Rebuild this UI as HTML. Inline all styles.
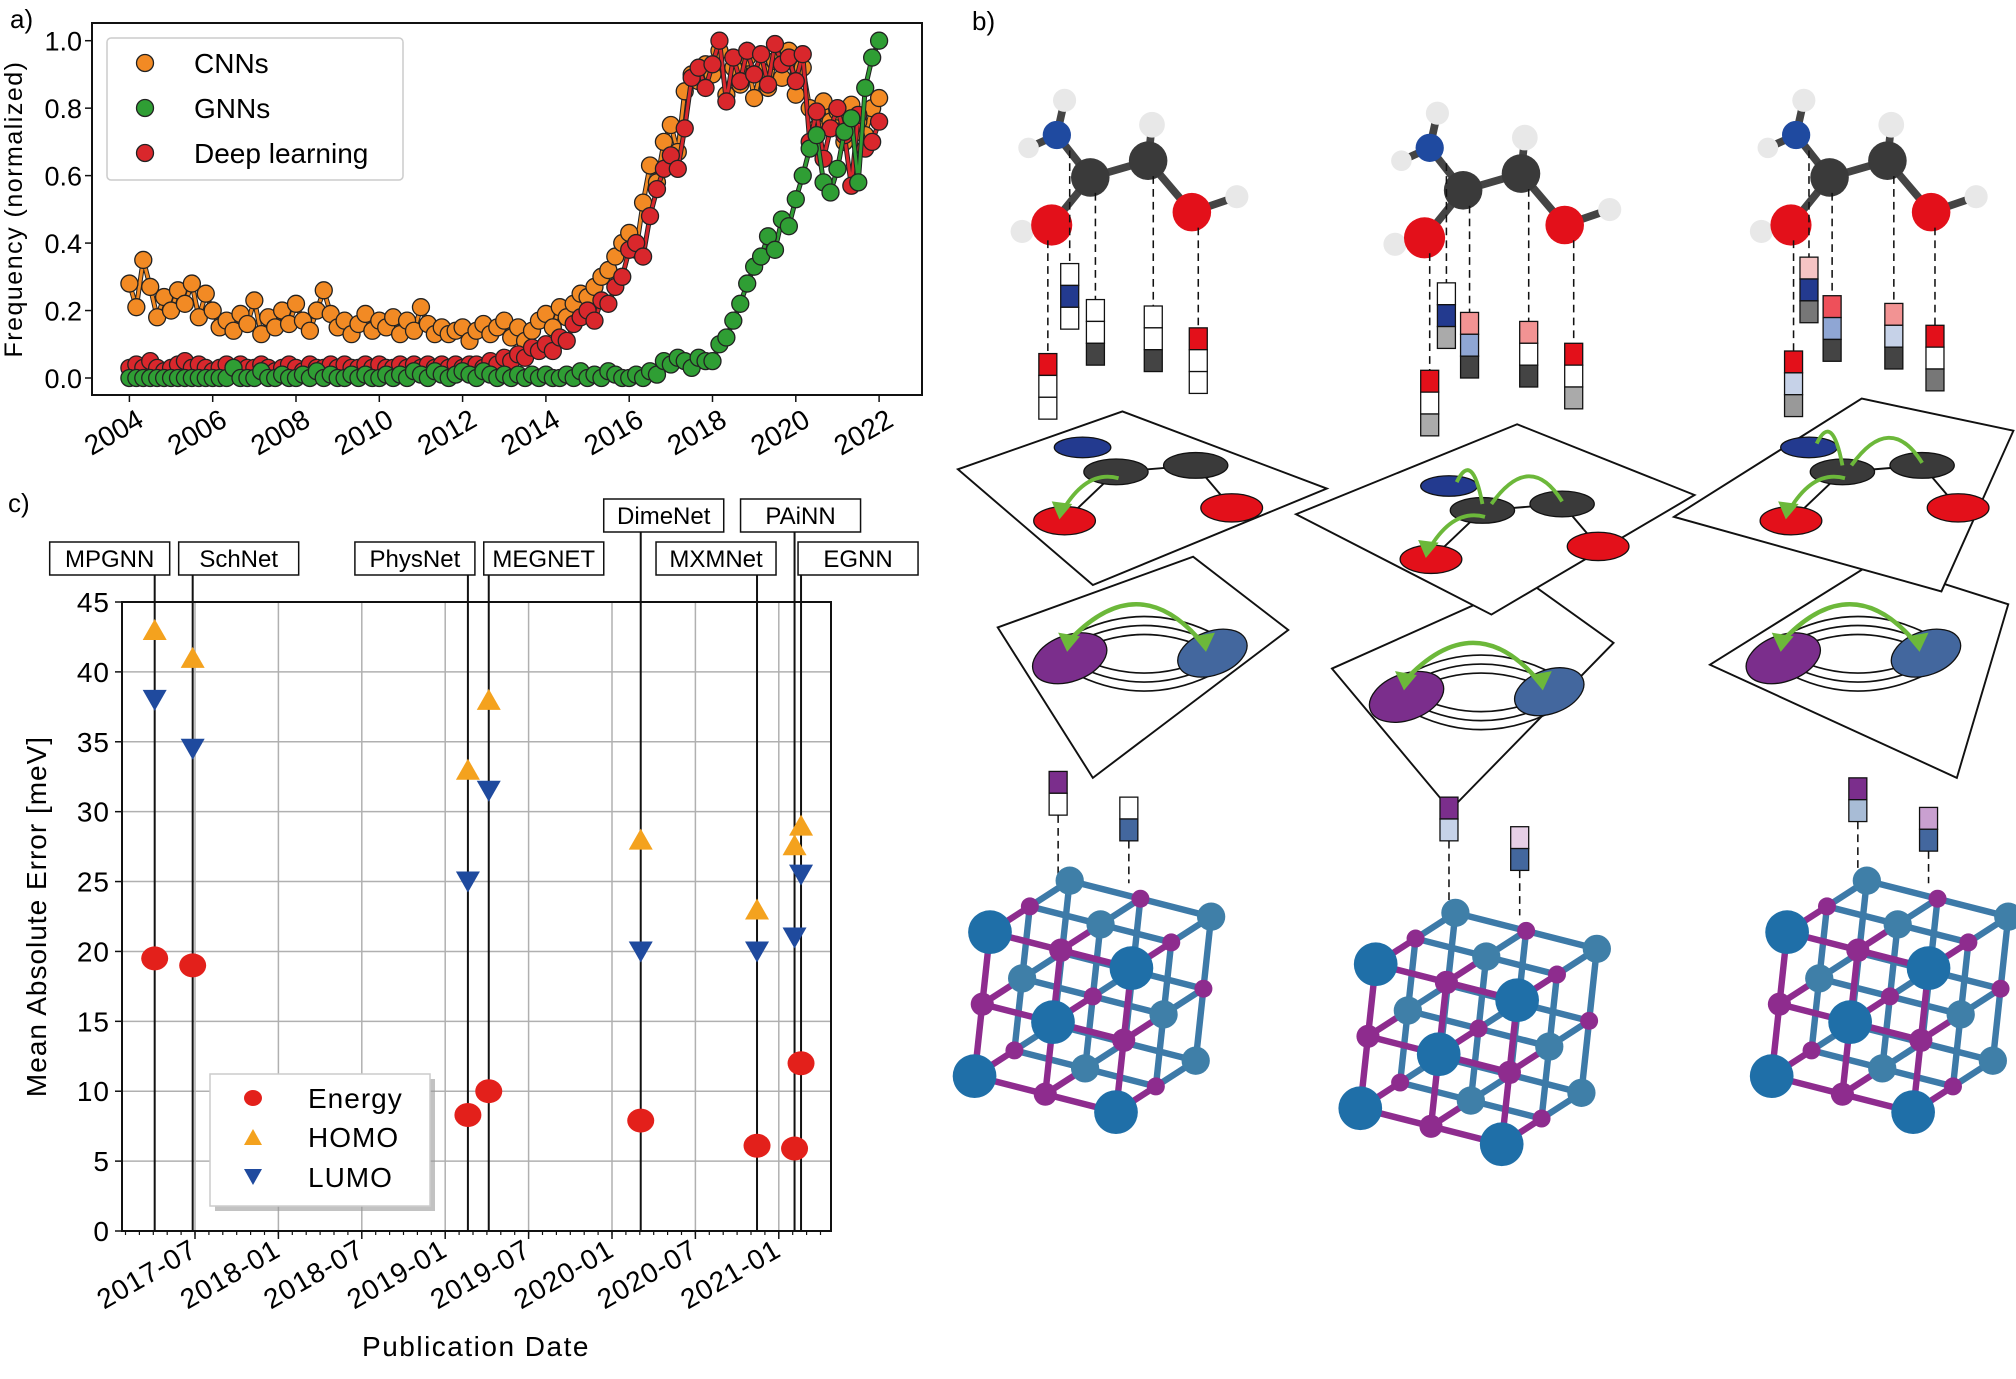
<!DOCTYPE html>
<html><head><meta charset="utf-8">
<style>
html,body{margin:0;padding:0;background:#fff;}
svg{display:block;font-family:"Liberation Sans","DejaVu Sans",sans-serif;}
</style></head>
<body>
<svg id="fig" width="2016" height="1379" viewBox="0 0 2016 1379" xmlns="http://www.w3.org/2000/svg">
<rect width="2016" height="1379" fill="#fff"/>
<g id="panelA"></g>
<g id="panelC"></g>
<g id="panelB" transform="scale(1.2857)"></g>
<text x="10" y="28" font-size="26">a)</text>
<text x="972" y="30" font-size="26">b)</text>
<text x="8" y="512" font-size="26">c)</text>
</svg>
<script>
// ---------- Panel a data (bi-monthly from 2004.0) ----------
const aYearTicks = [2004,2006,2008,2010,2012,2014,2016,2018,2020,2022];
const aValueTicks = [0,0.2,0.4,0.6,0.8,1.0];
const aStartYear = 2004;
const aStep = 1/6;
const cnnValues = [
.28,.21,.35,.27,.18,.24, .20,.26,.22,.28,.18,.25, .20,.15,.17,.14,.19,.16, .23,.13,.18,.15,.20,.16,
.22,.17,.14,.20,.26,.19, .15,.17,.13,.16,.19,.14, .17,.15,.18,.13,.17,.14, .21,.16,.13,.15,.13,.14,
.15,.11,.14,.16,.13,.15, .17,.12,.15,.11,.14,.17, .19,.15,.21,.18,.22,.25, .24,.27,.30,.32,.36,.40,
.43,.38,.52,.63,.58,.70, .75,.67,.85,.90,.88,.93, .90,.97,.84,.92,.87,.95, .83,.91,.86,.94,.89,.97,
.84,.92,.80,.74,.82,.76, .79,.70,.81,.76,.72,.80, .83];
const dlValues = [
.03,.04,.03,.05,.03,.02, .03,.04,.05,.03,.04,.03, .02,.03,.04,.03,.04,.03, .03,.04,.03,.02,.03,.04,
.03,.02,.04,.03,.03,.04, .03,.04,.03,.03,.04,.03, .04,.03,.03,.04,.03,.04, .03,.04,.03,.04,.03,.04,
.03,.04,.04,.03,.05,.04, .06,.05,.07,.06,.09,.08, .10,.08,.12,.11,.16,.18, .20,.17,.23,.22,.27,.30,
.38,.40,.36,.48,.56,.62, .66,.62,.74,.89,.92,.86, .93,1.0,.82,.95,.88,.97, .90,.96,.87,.99,.93,.95,
.88,.96,.70,.79,.65,.74, .80,.72,.57,.78,.68,.70, .76];
const gnnValues = [
0,0,0,0,0,0, 0,0,0,0,0,0, 0,0,0,.03,0,0, 0,.02,0,0,.01,0,
0,.01,0,.02,0,.01, 0,0,.01,0,.01,0, 0,.01,0,.01,0,.02, .01,0,.02,.01,0,.01,
.02,.01,0,.02,.01,0, .01,0,.01,0,.01,0, .01,0,0,.01,0,.02, 0,.01,0,.02,.01,0,
0,.01,0,.02,.01,.05, .04,.06,.05,.03,.06,.05, .05,.10,.12,.17,.22,.28, .33,.36,.42,.38,.47,.45,
.53,.60,.68,.72,.58,.55, .62,.73,.77,.58,.86,.95, 1.0];

// ---------- Panel c data ----------
const cModels = ["MPGNN","SchNet","PhysNet","MEGNET","DimeNet","MXMNet","PAiNN","EGNN"];
const cDates = ["2017-04-04","2017-06-26","2019-02-20","2019-04-05","2020-03-03","2020-11-14","2021-02-05","2021-02-19"];
const cEnergy = [19.5,19,8.3,10,7.9,6.1,5.9,12];
const cHomo = [43,41,33,38,28,23,27.6,29];
const cLumo = [38,34.5,25,31.5,20,20,21,25.5];
const cYTicks = [0,5,10,15,20,25,30,35,40,45];
const cXTicks = ["2017-07","2018-01","2018-07","2019-01","2019-07","2020-01","2020-07","2021-01"];

const NS="http://www.w3.org/2000/svg";
function mk(parent,tag,attrs){const e=document.createElementNS(NS,tag);for(const k in attrs)e.setAttribute(k,attrs[k]);parent.appendChild(e);return e;}

// ===== Panel A =====
(function(){
const g=document.getElementById('panelA');
const L=92,R=922,T=23,B=395;
const xA=y=>129.4+(y-2004)*41.65;
const yA=v=>378-v*337.3;
const ax=mk(g,'rect',{x:L,y:T,width:R-L,height:B-T,fill:'none',stroke:'#111','stroke-width':2});


aValueTicks.forEach(v=>{
  const t=mk(g,'line',{x1:L-7,x2:L,y1:yA(v),y2:yA(v),stroke:'#111','stroke-width':1.5});
  
  
  const tx=mk(g,'text',{x:L-10,y:yA(v)+10,'font-size':27,'text-anchor':'end'});
  tx.textContent=v.toFixed(1);
  
  
});
aYearTicks.forEach(y=>{
  const t=mk(g,'line',{x1:xA(y),x2:xA(y),y1:B,y2:B+7,stroke:'#111','stroke-width':1.5});
  
  
  const tx=mk(g,'text',{x:0,y:0,'font-size':28,'text-anchor':'end',transform:`translate(${xA(y)+16},${B+30}) rotate(-30)`});
  tx.textContent=y;
  
  
});
const yt=mk(g,'text',{x:0,y:0,'font-size':25,'letter-spacing':'1.5','text-anchor':'middle',transform:`translate(22,${(T+B)/2}) rotate(-90)`});
yt.textContent='Frequency (normalized)';


function series(vals,color,name){
  const sg=mk(g,'g',{});
  
  
  const pts=vals.map((v,i)=>[xA(aStartYear+i*aStep),yA(v)]);
  mk(sg,'polyline',{points:pts.map(p=>p.join(',')).join(' '),fill:'none',stroke:'#222','stroke-width':5});
  mk(sg,'polyline',{points:pts.map(p=>p.join(',')).join(' '),fill:'none',stroke:color,'stroke-width':3});
  pts.forEach(p=>{
    const c=mk(sg,'circle',{cx:p[0],cy:p[1],r:8.5,fill:color,stroke:'#222','stroke-width':1.3});
    
    
  });
}
series(cnnValues,'#f28a24','series-cnns');
series(dlValues,'#d9272c','series-deep-learning');
series(gnnValues,'#2f9e34','series-gnns');
const lg=mk(g,'g',{});


mk(lg,'rect',{x:107,y:38,width:296,height:142,rx:4,fill:'#fff','fill-opacity':0.85,stroke:'#ccc','stroke-width':1.5});
[['CNNs','#f28a24',63],['GNNs','#2f9e34',108],['Deep learning','#d9272c',153]].forEach(e=>{
  const c=mk(lg,'circle',{cx:145,cy:e[2],r:8.5,fill:e[1],stroke:'#222','stroke-width':1.3});
  
  
  const t=mk(lg,'text',{x:194,y:e[2]+10,'font-size':28});
  t.textContent=e[0];
  
  
});
})();

// ===== Panel C =====
(function(){
const g=document.getElementById('panelC');
const L=122,R=831,T=602,B=1231;
function mon(s){const p=s.split('-').map(Number);return (p[0]-2017)*12+(p[1]-1)+((p[2]||1)-1)/30;}
const xC=m=>195+(m-6)*13.9;
const yC=v=>B-v*(B-T)/45;
cYTicks.forEach(v=>{
  const l=mk(g,'line',{x1:L,x2:R,y1:yC(v),y2:yC(v),stroke:'#b0b0b0','stroke-width':1.5});
  
  
  const t=mk(g,'line',{x1:L-7,x2:L,y1:yC(v),y2:yC(v),stroke:'#111','stroke-width':1.5});
  
  
  const tx=mk(g,'text',{x:L-12,y:yC(v)+10,'font-size':28,'letter-spacing':'1','text-anchor':'end'});
  tx.textContent=v;
  
  
});
cXTicks.forEach(s=>{
  const x=xC(mon(s));
  const l=mk(g,'line',{x1:x,x2:x,y1:T,y2:B,stroke:'#b0b0b0','stroke-width':1.5});
  
  
  const t=mk(g,'line',{x1:x,x2:x,y1:B,y2:B+8,stroke:'#111','stroke-width':1.5});
  
  
  const tx=mk(g,'text',{x:0,y:0,'font-size':28,'letter-spacing':'1','text-anchor':'end',transform:`translate(${x+4},${B+24}) rotate(-30)`});
  tx.textContent=s;
  
  
});
for(let m=1;m<=51;m++){const x=xC(m);if(x<L||x>R)continue;
  const t=mk(g,'line',{x1:x,x2:x,y1:B,y2:B+4,stroke:'#111','stroke-width':1.2});
  
  }
const ax=mk(g,'rect',{x:L,y:T,width:R-L,height:B-T,fill:'none',stroke:'#111','stroke-width':2});


const labelDx=[-45,46,-53,55,23,-41,6,57];
const labelTop=[542,542,542,542,499,542,499,542];
cModels.forEach((n,i)=>{
  const x=xC(mon(cDates[i]));
  const l=mk(g,'line',{x1:x,x2:x,y1:labelTop[i]+33,y2:B,stroke:'#111','stroke-width':2});
  
  
  const bx=x+labelDx[i];
  const r=mk(g,'rect',{x:bx-60,y:labelTop[i],width:120,height:33,fill:'#fff',stroke:'#111','stroke-width':1.5});
  
  
  const t=mk(g,'text',{x:bx,y:labelTop[i]+25,'font-size':24,'text-anchor':'middle'});
  t.textContent=n;
  
  
});
cModels.forEach((n,i)=>{
  const x=xC(mon(cDates[i]));
  let y=yC(cHomo[i]);
  const h=mk(g,'polygon',{points:`${x-12},${y+10} ${x+12},${y+10} ${x},${y-11}`,fill:'#f4a21e'});
  
  
  y=yC(cLumo[i]);
  const lu=mk(g,'polygon',{points:`${x-12},${y-10} ${x+12},${y-10} ${x},${y+11}`,fill:'#1f4a9e'});
  
  
  y=yC(cEnergy[i]);
  const e=mk(g,'ellipse',{cx:x,cy:y,rx:13.5,ry:12,fill:'#e3201b'});
  
  
});
const yt=mk(g,'text',{x:0,y:0,'font-size':28,'letter-spacing':'1','text-anchor':'middle',transform:`translate(46,${(T+B)/2}) rotate(-90)`});
yt.textContent='Mean Absolute Error [meV]';


const xt=mk(g,'text',{x:476,y:1356,'font-size':28,'text-anchor':'middle','letter-spacing':'1.5'});
xt.textContent='Publication Date';


const lg=mk(g,'g',{});


mk(lg,'rect',{x:215,y:1079,width:220,height:132,fill:'#999','fill-opacity':0.6});
mk(lg,'rect',{x:210,y:1074,width:220,height:132,fill:'#fff',stroke:'#ccc','stroke-width':1.5});
const ly=[1098,1137,1177];
mk(lg,'ellipse',{cx:253,cy:ly[0],rx:9,ry:8,fill:'#e3201b'});
mk(lg,'polygon',{points:`244,${ly[1]+8} 262,${ly[1]+8} 253,${ly[1]-8}`,fill:'#f4a21e'});
mk(lg,'polygon',{points:`244,${ly[2]-8} 262,${ly[2]-8} 253,${ly[2]+8}`,fill:'#1f4a9e'});
['Energy','HOMO','LUMO'].forEach((s,i)=>{
  const t=mk(lg,'text',{x:308,y:ly[i]+10,'font-size':28,'letter-spacing':'1'});
  t.textContent=s;
  
  
});
})();

// ===== Panel B (illustration, overview coordinates) =====
(function(){
const g=document.getElementById('panelB');
const cols=[{dx:0,dy:0},{dx:290,dy:10},{dx:575,dy:0}];
const atoms=[['H',828,78,9,'#e8e8e8'],['H',800,115,8,'#e8e8e8'],['N',822,105,11,'#1f4aa0'],['H',896,97,10,'#e8e8e8'],['C',848,138,15,'#3a3a3a'],['C',893,125,15,'#3a3a3a'],['H',795,180,9,'#e8e8e8'],['H',962,153,9,'#e8e8e8'],['O',818,175,16,'#e3101a'],['O',927,165,15,'#e3101a']];
const bonds=[[822,105,848,138],[848,138,893,125],[848,138,818,175],[893,125,927,165],[822,105,828,78],[822,105,800,115],[893,125,896,97],[927,165,962,153],[818,175,795,180]];
const bars=[
 [[808,275,['#e3101a','#fff','#fff']],[825,205,['#fff','#233a8f','#fff']],[845,233,['#fff','#fff','#444']],[890,238,['#fff','#fff','#444']],[925,255,['#e3101a','#fff','#fff']]],
 [[1105,288,['#e3101a','#fff','#aaa']],[1118,220,['#fff','#233a8f','#aaa']],[1136,243,['#f29393','#8fa6d4','#444']],[1182,250,['#f29393','#fff','#444']],[1217,267,['#e3101a','#fff','#aaa']]],
 [[1388,273,['#e3101a','#c6d2e8','#999']],[1400,200,['#f6c4c4','#233a8f','#777']],[1418,230,['#ee505a','#8fa6d4','#444']],[1466,236,['#f29393','#c6d2e8','#444']],[1498,253,['#e3101a','#fff','#777']]]];
const srcAtoms=[[818,175],[822,105],[848,138],[893,125],[927,165]];
cols.forEach((c,ci)=>{
  const mg=mk(g,'g',{transform:`translate(${c.dx},${c.dy})`});
  
  
  bonds.forEach(b=>mk(mg,'line',{x1:b[0],y1:b[1],x2:b[2],y2:b[3],stroke:'#444','stroke-width':6}));
  atoms.forEach(a=>mk(mg,'circle',{cx:a[1],cy:a[2],r:a[3],fill:a[4]}));
  bars[ci].forEach((b,bi)=>{
    const x=b[0]-c.dx, y=b[1]-c.dy;
    mk(mg,'line',{x1:x+7,y1:srcAtoms[bi][1]+12,x2:x+7,y2:y,stroke:'#111','stroke-width':1.2,'stroke-dasharray':'6,4'});
    b[2].forEach((col,k)=>mk(mg,'rect',{x:x,y:y+k*17,width:14,height:17,fill:col,stroke:'#111','stroke-width':1}));
  });
});
const upper=[[[745,365],[873,320],[1032,380],[850,455]],[[1008,400],[1180,330],[1318,385],[1160,478]],[[1302,402],[1448,310],[1566,335],[1510,460]]];
const lower=[[[776,488],[928,433],[1002,490],[850,605]],[[1036,520],[1188,452],[1255,500],[1128,630]],[[1330,517],[1458,437],[1562,470],[1522,605]]];
lower.forEach(p=>{const e=mk(g,'polygon',{points:p.map(q=>q.join(',')).join(' '),fill:'#fff',stroke:'#111','stroke-width':1.5});
  
  });
upper.forEach(p=>{const e=mk(g,'polygon',{points:p.map(q=>q.join(',')).join(' '),fill:'#fff',stroke:'#111','stroke-width':1.5});
  
  });
const gOff=[[0,0],[285,30],[565,0]];
gOff.forEach((o,gi)=>{
  const gg=mk(g,'g',{transform:`translate(${o[0]},${o[1]})`});
  
  
  [[868,367,828,405],[868,367,930,362],[930,362,958,395]].forEach(b=>mk(gg,'line',{x1:b[0],y1:b[1],x2:b[2],y2:b[3],stroke:'#111','stroke-width':1.5}));
  mk(gg,'ellipse',{cx:842,cy:348,rx:22,ry:8,fill:'#233a8f',stroke:'#111'});
  mk(gg,'ellipse',{cx:868,cy:367,rx:25,ry:10,fill:'#3a3a3a',stroke:'#111'});
  mk(gg,'ellipse',{cx:930,cy:362,rx:25,ry:10,fill:'#3a3a3a',stroke:'#111'});
  mk(gg,'ellipse',{cx:828,cy:405,rx:24,ry:11,fill:'#e3101a',stroke:'#111'});
  mk(gg,'ellipse',{cx:958,cy:395,rx:24,ry:11,fill:'#e3101a',stroke:'#111'});
  mk(gg,'path',{d:'M870,372 Q845,365 826,398',fill:'none',stroke:'#6cb83a','stroke-width':3});
  mk(gg,'polygon',{points:'818,390 834,392 824,404',fill:'#6cb83a'});
  if(gi>0){
    mk(gg,'path',{d:'M848,345 Q860,320 868,362',fill:'none',stroke:'#6cb83a','stroke-width':3});
    mk(gg,'path',{d:'M930,360 Q905,320 875,362',fill:'none',stroke:'#6cb83a','stroke-width':3});
  }
});
const cOff=[[0,0],[262,30],[555,0]];
cOff.forEach(o=>{
  const gg=mk(g,'g',{transform:`translate(${o[0]},${o[1]})`});
  
  
  [0,7,14].forEach(k=>{
    mk(gg,'path',{d:`M840,${505-k} Q890,${482-k} 940,${505-k}`,fill:'none',stroke:'#111','stroke-width':1.3});
    mk(gg,'path',{d:`M840,${512+k} Q890,${535+k} 940,${512+k}`,fill:'none',stroke:'#111','stroke-width':1.3});
  });
  mk(gg,'ellipse',{cx:832,cy:512,rx:30,ry:18,fill:'#7b2e8c',stroke:'#111',transform:'rotate(-20 832 512)'});
  mk(gg,'ellipse',{cx:943,cy:508,rx:28,ry:17,fill:'#43679e',stroke:'#111',transform:'rotate(-20 943 508)'});
  mk(gg,'path',{d:'M830,500 Q885,440 935,500',fill:'none',stroke:'#6cb83a','stroke-width':3.5});
  mk(gg,'polygon',{points:'823,492 840,495 830,507',fill:'#6cb83a'});
  mk(gg,'polygon',{points:'928,495 945,492 938,507',fill:'#6cb83a'});
});
const crys=[[850,775,[816,600],[871,620],['#7b2e8c','#fff'],['#fff','#43679e']],[1150,800,[1120,620],[1175,643],['#7b2e8c','#c6d2e8'],['#e6cfe6','#43679e']],[1470,775,[1438,605],[1493,628],['#7b2e8c','#a8bcd6'],['#c9a0d0','#43679e']]];
const va=[110,28], vb=[-62,40], vc=[12,-112];
crys.forEach(c=>{
  const gg=mk(g,'g',{});
  
  
  [[c[2],c[4]],[c[3],c[5]]].forEach(b=>{
    mk(gg,'line',{x1:b[0][0]+7,y1:b[0][1]+34,x2:b[0][0]+7,y2:c[1]-88,stroke:'#111','stroke-width':1.2,'stroke-dasharray':'6,4'});
    b[1].forEach((col,k)=>mk(gg,'rect',{x:b[0][0],y:b[0][1]+k*17,width:14,height:17,fill:col,stroke:'#111','stroke-width':1}));
  });
  const cx=c[0],cy=c[1];
  const P=(i,j,k)=>[cx+(i-.5)*va[0]+(j-.5)*vb[0]+(k-.5)*vc[0], cy+(i-.5)*va[1]+(j-.5)*vb[1]+(k-.5)*vc[1]];
  const pts=[];for(let i=0;i<3;i++)for(let j=0;j<3;j++)for(let k=0;k<3;k++)pts.push([i,j,k]);
  // depth sort: back first (small j means back? vb goes down-left = front)
  const depth=p=>p[0]*0.3+p[1]*1-p[2]*0.1;
  pts.sort((a,b)=>depth(a)-depth(b));
  pts.forEach(p=>{[[1,0,0],[0,1,0],[0,0,1]].forEach(d=>{
    const q=[p[0]+d[0],p[1]+d[1],p[2]+d[2]];if(q[0]>2||q[1]>2||q[2]>2)return;
    const a=P(p[0]/2,p[1]/2,p[2]/2),b=P(q[0]/2,q[1]/2,q[2]/2);
    const front=p[1]===2||q[1]===2;
    mk(gg,'line',{x1:a[0],y1:a[1],x2:b[0],y2:b[1],stroke:front?'#8e2c8e':'#3d7aa8','stroke-width':5});
  });});
  pts.forEach(p=>{const a=P(p[0]/2,p[1]/2,p[2]/2);const even=(p[0]+p[1]+p[2])%2===0;
    const back=p[1]<2;
    mk(gg,'circle',{cx:a[0],cy:a[1],r:even?(back?11:17):(back?7:9),fill:even?(back?'#3f7fa8':'#1f6fa8'):'#8e2c8e'});});
});
})();
</script>
</body></html>
